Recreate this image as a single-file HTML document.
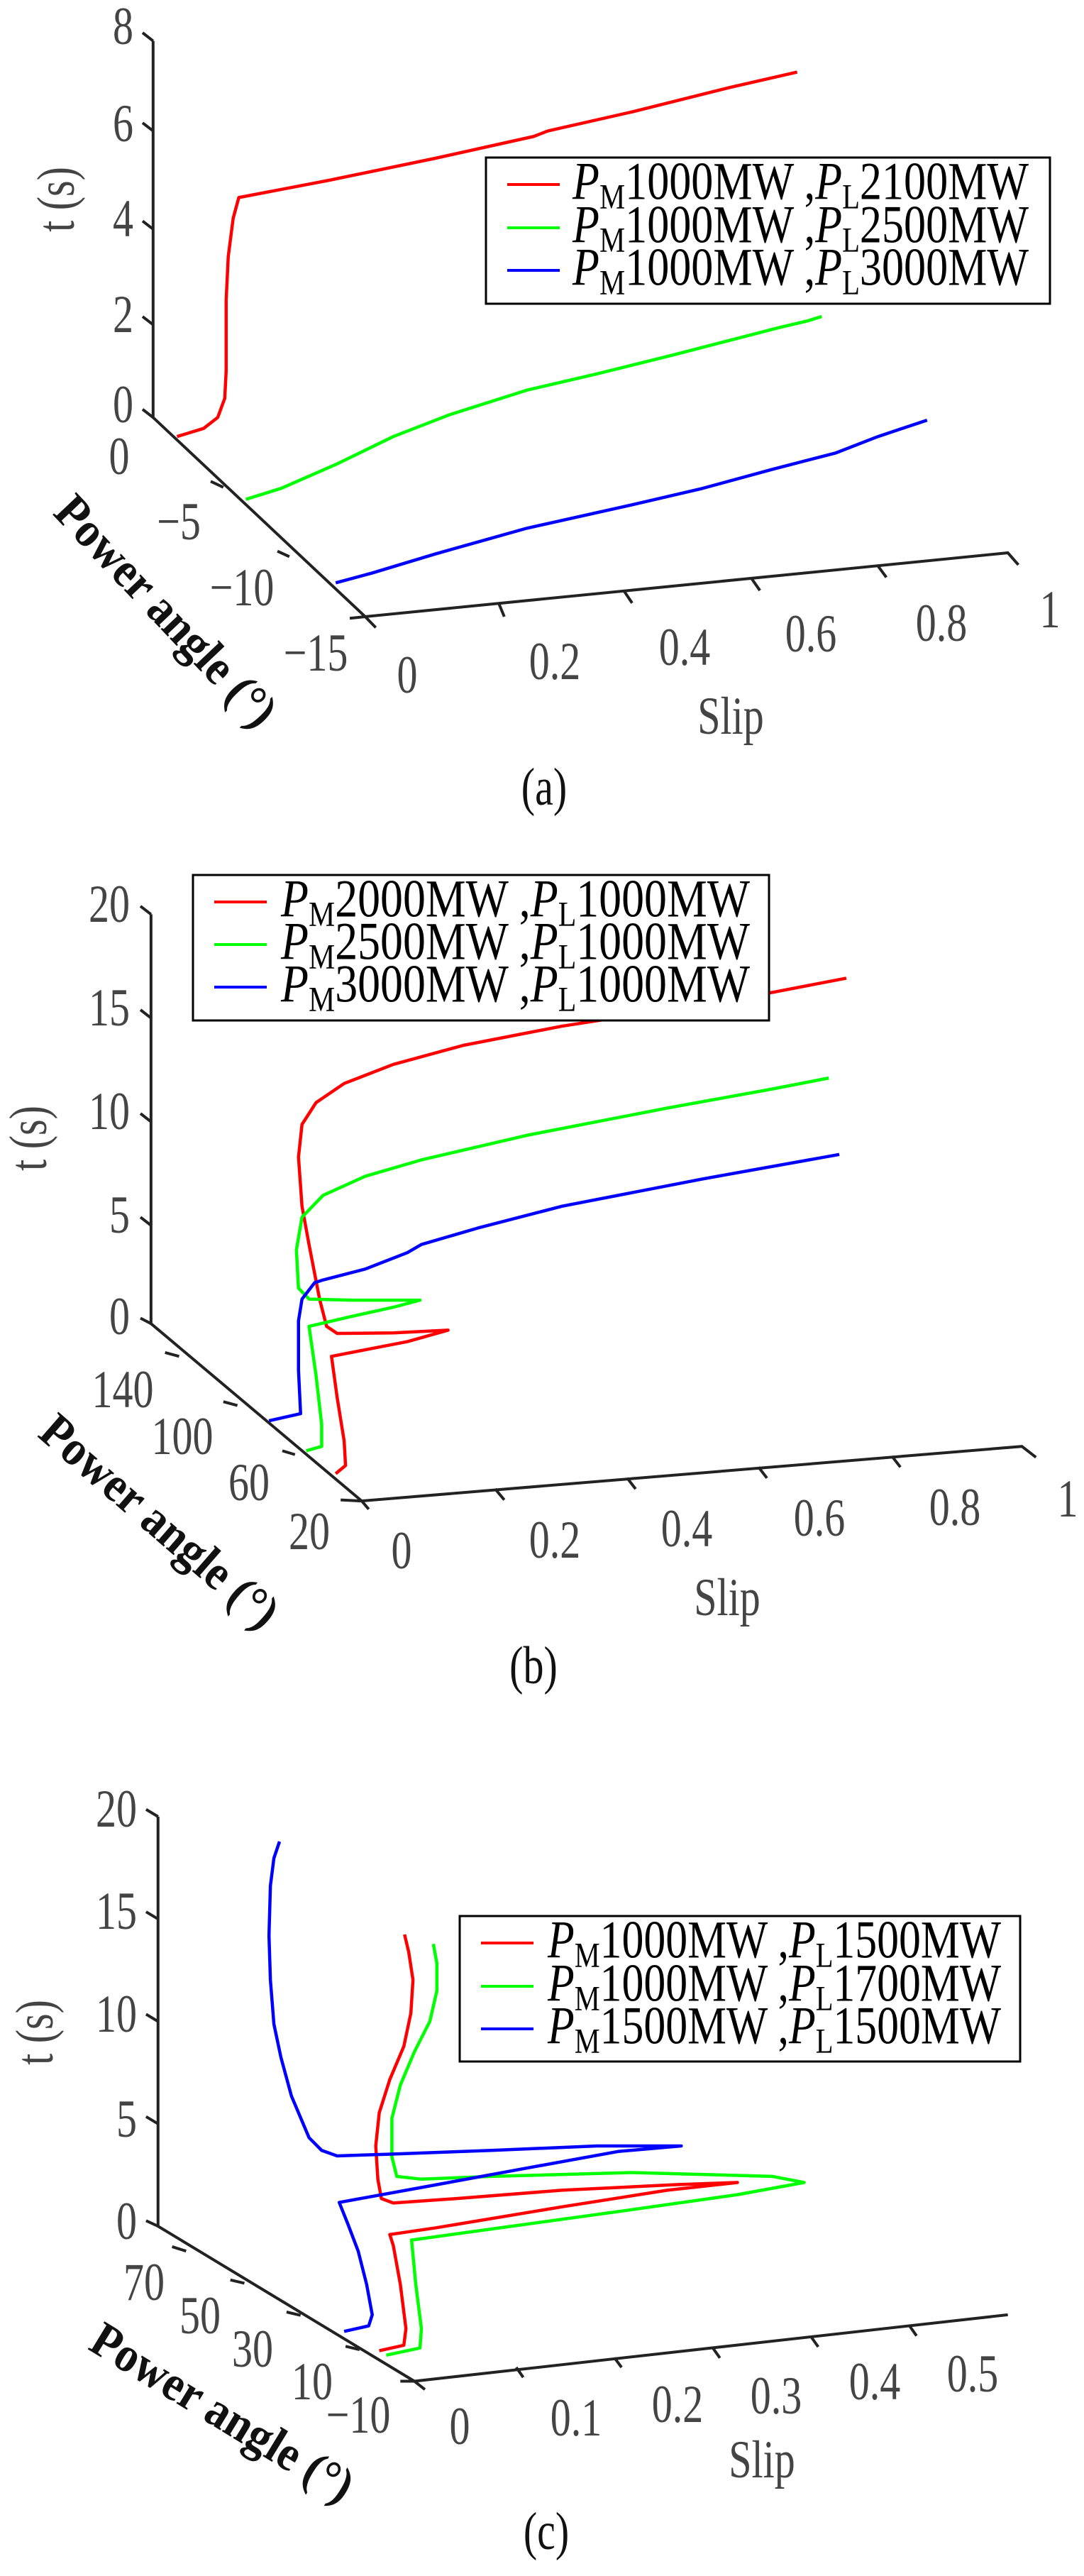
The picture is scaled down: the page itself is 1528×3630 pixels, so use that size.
<!DOCTYPE html>
<html><head><meta charset="utf-8"><style>
html,body{margin:0;padding:0;background:#fff}
svg{display:block}
text{font-family:"Liberation Serif",serif}
.t{font-size:58px;fill:#444}
.pl{font-size:56px;fill:#111;font-weight:bold}
.lg{font-size:58px;fill:#000}
.ax{stroke:#222;stroke-width:4;fill:none}
.c{fill:none;stroke-width:4.5;stroke-linejoin:round}
g.t text, text.lg, text.lab{transform-box:fill-box;transform-origin:50% 70%;transform:scaleY(1.3)}
</style></head><body>
<svg width="1528" height="3630" viewBox="0 0 1528 3630" xmlns="http://www.w3.org/2000/svg">
<rect width="1528" height="3630" fill="#fff"/>

<!-- ===== Panel (a) ===== -->
<g transform="scale(0.99,0.769)">
 <polyline class="ax" vector-effect="non-scaling-stroke" points="218,75 218,765 520,1130 1435,1013 1450,1035"/>
 <path class="ax" vector-effect="non-scaling-stroke" d="M203,60L218,75 M203,225L218,240 M203,405L218,420 M203,580L218,595 M203,750L218,765 M300,882L318,893 M395,1010L412,1020 M498,1133L520,1130 M520,1130L535,1150 M710,1105L718,1130 M888,1082L900,1105 M1070,1060L1082,1082 M1250,1037L1262,1058"/>
 <polyline class="c" stroke="#f00" vector-effect="non-scaling-stroke" points="252,800 290,785 310,765 320,730 322,680 322,550 325,470 332,400 340,362 470,330 620,290 760,250 780,240 900,205 1040,160 1135,132"/>
 <polyline class="c" stroke="#0f0" vector-effect="non-scaling-stroke" points="350,915 400,895 480,850 560,800 640,760 750,715 850,685 960,650 1050,620 1110,600 1150,588 1170,580"/>
 <polyline class="c" stroke="#00f" vector-effect="non-scaling-stroke" points="478,1068 530,1050 620,1015 750,968 900,925 1000,895 1100,860 1190,830 1250,800 1320,770"/>
</g>
<g class="t" text-anchor="end">
 <text x="188" y="60">8</text><text x="188" y="197">6</text><text x="188" y="331">4</text><text x="188" y="466">2</text><text x="188" y="593">0</text>
</g>
<text class="t" text-anchor="middle" transform="translate(104,281) rotate(-90) scale(1,1.3)">t (s)</text>
<g class="t" text-anchor="middle">
 <text x="168" y="666">0</text><text x="252" y="758">−5</text><text x="341" y="851">−10</text><text x="445" y="943">−15</text>
 <text x="574" y="974">0</text><text x="782" y="955">0.2</text><text x="965" y="935">0.4</text><text x="1143" y="916">0.6</text><text x="1327" y="901">0.8</text><text x="1480" y="882">1</text>
 <text x="1030" y="1032">Slip</text>
</g>
<text class="lab" x="767" y="1132" text-anchor="middle" style="font-size:58px;fill:#111">(a)</text>
<text class="pl" text-anchor="middle" transform="translate(232,863) rotate(46.6) scale(1,1.25)" dy="16" textLength="420" lengthAdjust="spacingAndGlyphs">Power angle (°)</text>
<rect x="685" y="222" width="795" height="206" fill="#fff" stroke="#000" stroke-width="3"/>
<line x1="715" y1="260" x2="789" y2="260" stroke="#f00" stroke-width="4"/>
<line x1="715" y1="321" x2="789" y2="321" stroke="#0f0" stroke-width="4"/>
<line x1="715" y1="381" x2="789" y2="381" stroke="#00f" stroke-width="4"/>
<text class="lg" x="807" y="280" textLength="643" lengthAdjust="spacingAndGlyphs"><tspan font-style="italic">P</tspan><tspan font-size="38" dy="10">M</tspan><tspan dy="-10">1000MW ,</tspan><tspan font-style="italic">P</tspan><tspan font-size="38" dy="10">L</tspan><tspan dy="-10">2100MW</tspan></text>
<text class="lg" x="807" y="341" textLength="643" lengthAdjust="spacingAndGlyphs"><tspan font-style="italic">P</tspan><tspan font-size="38" dy="10">M</tspan><tspan dy="-10">1000MW ,</tspan><tspan font-style="italic">P</tspan><tspan font-size="38" dy="10">L</tspan><tspan dy="-10">2500MW</tspan></text>
<text class="lg" x="807" y="401" textLength="643" lengthAdjust="spacingAndGlyphs"><tspan font-style="italic">P</tspan><tspan font-size="38" dy="10">M</tspan><tspan dy="-10">1000MW ,</tspan><tspan font-style="italic">P</tspan><tspan font-size="38" dy="10">L</tspan><tspan dy="-10">3000MW</tspan></text>

<!-- ===== Panel (b) ===== -->
<g transform="translate(0,1200) scale(0.99,0.769)">
 <polyline class="ax" vector-effect="non-scaling-stroke" points="215,115 215,865 515,1190 1455,1090 1475,1110"/>
 <path class="ax" vector-effect="non-scaling-stroke" d="M200,100L215,115 M200,290L215,305 M200,480L215,495 M200,670L215,685 M200,855L215,865 M235,918L255,925 M318,1008L338,1015 M402,1098L420,1105 M485,1188L515,1190 M515,1190L525,1205 M705,1168L718,1188 M893,1148L905,1168 M1080,1128L1092,1148 M1270,1108L1282,1128"/>
 <polyline class="c" stroke="#f00" vector-effect="non-scaling-stroke" points="478,1140 492,1125 490,1080 480,1000 472,925 520,913 580,898 638,877 560,882 480,883 465,870 455,820 440,720 430,650 425,560 430,500 450,460 490,425 560,390 660,355 800,320 950,290 1100,258 1205,232"/>
 <polyline class="c" stroke="#0f0" vector-effect="non-scaling-stroke" points="436,1098 458,1090 458,1050 450,960 440,870 500,852 560,835 598,822 500,822 440,820 425,800 422,730 430,670 460,630 520,595 600,565 750,520 950,470 1100,435 1180,415"/>
 <polyline class="c" stroke="#00f" vector-effect="non-scaling-stroke" points="383,1043 428,1030 425,950 425,860 430,820 448,790 460,785 520,765 580,735 600,720 680,690 800,650 1000,600 1195,555"/>
</g>
<g class="t" text-anchor="end">
 <text x="183" y="1297">20</text><text x="183" y="1443">15</text><text x="183" y="1589">10</text><text x="183" y="1735">5</text><text x="183" y="1878">0</text>
</g>
<text class="t" text-anchor="middle" transform="translate(65,1604) rotate(-90) scale(1,1.3)">t (s)</text>
<g class="t" text-anchor="middle">
 <text x="173" y="1981">140</text><text x="257" y="2047">100</text><text x="351" y="2112">60</text><text x="436" y="2181">20</text>
 <text x="566" y="2208">0</text><text x="782" y="2193">0.2</text><text x="968" y="2177">0.4</text><text x="1155" y="2162">0.6</text><text x="1346" y="2147">0.8</text><text x="1505" y="2135">1</text>
 <text x="1025" y="2274">Slip</text>
</g>
<text class="lab" x="752" y="2370" text-anchor="middle" style="font-size:58px;fill:#111">(b)</text>
<text class="pl" text-anchor="middle" transform="translate(223,2146) rotate(41) scale(1,1.25)" dy="16" textLength="420" lengthAdjust="spacingAndGlyphs">Power angle (°)</text>
<rect x="272" y="1233" width="812" height="205" fill="#fff" stroke="#000" stroke-width="3"/>
<line x1="302" y1="1271" x2="376" y2="1271" stroke="#f00" stroke-width="4"/>
<line x1="302" y1="1331" x2="376" y2="1331" stroke="#0f0" stroke-width="4"/>
<line x1="302" y1="1391" x2="376" y2="1391" stroke="#00f" stroke-width="4"/>
<text class="lg" x="396" y="1291" textLength="661" lengthAdjust="spacingAndGlyphs"><tspan font-style="italic">P</tspan><tspan font-size="38" dy="10">M</tspan><tspan dy="-10">2000MW ,</tspan><tspan font-style="italic">P</tspan><tspan font-size="38" dy="10">L</tspan><tspan dy="-10">1000MW</tspan></text>
<text class="lg" x="396" y="1351" textLength="661" lengthAdjust="spacingAndGlyphs"><tspan font-style="italic">P</tspan><tspan font-size="38" dy="10">M</tspan><tspan dy="-10">2500MW ,</tspan><tspan font-style="italic">P</tspan><tspan font-size="38" dy="10">L</tspan><tspan dy="-10">1000MW</tspan></text>
<text class="lg" x="396" y="1411" textLength="661" lengthAdjust="spacingAndGlyphs"><tspan font-style="italic">P</tspan><tspan font-size="38" dy="10">M</tspan><tspan dy="-10">3000MW ,</tspan><tspan font-style="italic">P</tspan><tspan font-size="38" dy="10">L</tspan><tspan dy="-10">1000MW</tspan></text>

<!-- ===== Panel (c) ===== -->
<g transform="translate(0,2400) scale(0.99,0.78)">
 <polyline class="ax" vector-effect="non-scaling-stroke" points="225,205 225,945 590,1225 1435,1105"/>
 <path class="ax" vector-effect="non-scaling-stroke" d="M208,192L225,205 M208,377L225,390 M208,562L225,575 M208,747L225,760 M208,935L225,945 M245,982L265,990 M328,1042L348,1048 M408,1100L428,1106 M492,1162L512,1168 M570,1225L590,1225 M590,1225L605,1240 M735,1200L745,1218 M875,1183L885,1200 M1015,1165L1025,1183 M1155,1145L1165,1163 M1295,1125L1305,1143"/>
 <polyline class="c" stroke="#f00" vector-effect="non-scaling-stroke" points="540,1170 575,1160 578,1130 570,1050 560,980 555,960 620,948 800,910 950,880 1050,866 960,870 800,880 650,895 560,903 543,895 538,860 535,800 540,740 555,680 575,620 585,560 588,500 582,450 576,418"/>
 <polyline class="c" stroke="#0f0" vector-effect="non-scaling-stroke" points="550,1178 598,1165 600,1130 592,1050 586,970 700,950 900,915 1050,888 1145,866 1100,855 900,848 700,855 600,860 565,855 558,820 558,750 570,690 590,630 612,575 622,520 622,470 617,435"/>
 <polyline class="c" stroke="#00f" vector-effect="non-scaling-stroke" points="490,1135 525,1125 530,1105 522,1050 510,990 495,940 483,902 600,875 750,840 880,810 970,800 850,800 700,808 550,815 480,818 458,808 440,785 415,710 400,640 390,580 385,500 383,420 385,330 390,280 398,250"/>
</g>
<g class="t" text-anchor="end">
 <text x="193" y="2572">20</text><text x="193" y="2716">15</text><text x="193" y="2861">10</text><text x="193" y="3009">5</text><text x="193" y="3153">0</text>
</g>
<text class="t" text-anchor="middle" transform="translate(74,2864) rotate(-90) scale(1,1.3)">t (s)</text>
<g class="t" text-anchor="middle">
 <text x="203" y="3239">70</text><text x="282" y="3286">50</text><text x="356" y="3333">30</text><text x="440" y="3379">10</text><text x="505" y="3426">−10</text>
 <text x="648" y="3442">0</text><text x="812" y="3430">0.1</text><text x="955" y="3411">0.2</text><text x="1094" y="3399">0.3</text><text x="1233" y="3379">0.4</text><text x="1371" y="3368">0.5</text>
 <text x="1074" y="3489">Slip</text>
</g>
<text class="lab" x="770" y="3590" text-anchor="middle" style="font-size:58px;fill:#111">(c)</text>
<text class="pl" text-anchor="middle" transform="translate(312,3402) rotate(31.4) scale(1,1.25)" dy="16" textLength="420" lengthAdjust="spacingAndGlyphs">Power angle (°)</text>
<rect x="648" y="2700" width="790" height="205" fill="#fff" stroke="#000" stroke-width="3"/>
<line x1="678" y1="2738" x2="752" y2="2738" stroke="#f00" stroke-width="4"/>
<line x1="678" y1="2799" x2="752" y2="2799" stroke="#0f0" stroke-width="4"/>
<line x1="678" y1="2859" x2="752" y2="2859" stroke="#00f" stroke-width="4"/>
<text class="lg" x="772" y="2758" textLength="639" lengthAdjust="spacingAndGlyphs"><tspan font-style="italic">P</tspan><tspan font-size="38" dy="10">M</tspan><tspan dy="-10">1000MW ,</tspan><tspan font-style="italic">P</tspan><tspan font-size="38" dy="10">L</tspan><tspan dy="-10">1500MW</tspan></text>
<text class="lg" x="772" y="2819" textLength="639" lengthAdjust="spacingAndGlyphs"><tspan font-style="italic">P</tspan><tspan font-size="38" dy="10">M</tspan><tspan dy="-10">1000MW ,</tspan><tspan font-style="italic">P</tspan><tspan font-size="38" dy="10">L</tspan><tspan dy="-10">1700MW</tspan></text>
<text class="lg" x="772" y="2879" textLength="639" lengthAdjust="spacingAndGlyphs"><tspan font-style="italic">P</tspan><tspan font-size="38" dy="10">M</tspan><tspan dy="-10">1500MW ,</tspan><tspan font-style="italic">P</tspan><tspan font-size="38" dy="10">L</tspan><tspan dy="-10">1500MW</tspan></text>
</svg>
</body></html>
